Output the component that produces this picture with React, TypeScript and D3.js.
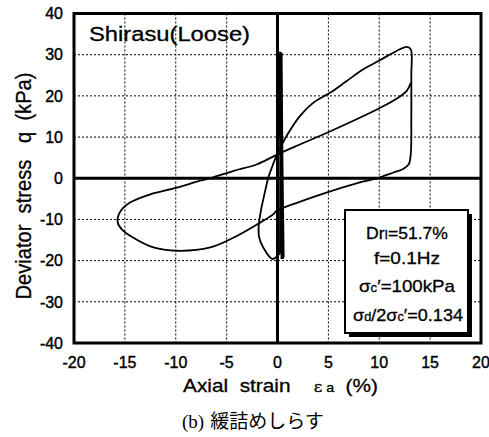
import React from 'react';
import * as d3 from 'd3';

// axis ticks
const xTicks = [-20, -15, -10, -5, 0, 5, 10, 15, 20];
const yTicks = [-40, -30, -20, -10, 0, 10, 20, 30, 40];

// small cycles piled up near the origin (the thick bar)
const smallCycles: [number, number][] = [
  [0.2, 30.7], [0.5, -19.5], [0.25, 30.5], [0.55, -19.2], [0.3, 30.6],
  [0.45, -19.6], [0.2, 30.2], [0.5, -19.0], [0.35, 30.4], [0.3, -18],
];

// first large drop and reloading
const firstDrop: [number, number][] = [
  [0.3, -18], [-0.5, -19.6], [-1.4, -16.8], [-1.8, -14.4], [-1.85, -11.6],
  [-1.6, -7.5], [-1.25, -3.5], [-0.9, 0.2], [-0.55, 2.6], [-0.25, 4.6], [0.2, 7.0],
];

// loading to peak then unloading and the full loop
const mainLoop: [number, number][] = [
  [0.2, 7.0], [0.9, 10.3], [2.2, 15.1], [3.5, 18.3], [5.2, 20.8], [6.8, 23.6],
  [8.4, 26.4], [10.1, 28.7], [11.7, 30.9], [12.7, 31.9], [13.1, 31.3],
  [13.15, 25], [13.15, 15], [13.1, 6], [12.9, 3.4], [12.3, 2.2], [11.4, 1.4],
  [9.8, 0], [8.1, -1], [4.8, -3.5], [1.55, -6.3], [-0.1, -7.9], [-0.4, -8.7],
  [-2.0, -11.2], [-4.3, -14.4], [-6.6, -16.8], [-9.9, -17.6], [-12.2, -16.8],
  [-14.2, -14.4], [-15.3, -12.4], [-15.7, -10.8], [-15.5, -8.3], [-14.5, -5.9],
  [-12.5, -3.9], [-9.9, -2.3], [-7.6, -0.6], [-6.6, 0], [-4.3, 1.8], [-2.0, 3.4],
  [0, 5.8], [2.2, 8.2], [5.2, 11.4], [10.1, 17.1], [12.0, 19.8], [12.7, 21.2],
  [13.1, 23.2],
];

const font = "'Liberation Sans', Arial, sans-serif";

export default function App() {
  const width = 489;
  const height = 437;
  const x = d3.scaleLinear().domain([-20, 20]).range([74, 481]);
  const y = d3.scaleLinear().domain([-40, 40]).range([343, 13.5]);

  const line = d3
    .line<[number, number]>()
    .x((d) => x(d[0]))
    .y((d) => y(d[1]))
    .curve(d3.curveCatmullRom.alpha(0.5));
  const straight = d3
    .line<[number, number]>()
    .x((d) => x(d[0]))
    .y((d) => y(d[1]));

  const grid = xTicks.filter((t) => t !== 0 && Math.abs(t) !== 20);
  const gridY = yTicks.filter((t) => t !== 0 && Math.abs(t) !== 40);

  return (
    <svg
      width={width}
      height={height}
      style={{ position: 'absolute', left: 0, top: 0, background: '#fff' }}
      fontFamily={font}
    >
      {/* grid */}
      {grid.map((t) => (
        <line key={'gx' + t} x1={x(t)} x2={x(t)} y1={y(40)} y2={y(-40)}
          stroke="#000" strokeWidth={1} strokeDasharray="2,2" />
      ))}
      {gridY.map((t) => (
        <line key={'gy' + t} x1={x(-20)} x2={x(20)} y1={y(t)} y2={y(t)}
          stroke="#000" strokeWidth={1} strokeDasharray="2,2" />
      ))}
      {/* zero axes */}
      <line x1={x(0)} x2={x(0)} y1={y(40)} y2={y(-40)} stroke="#000" strokeWidth={3} />
      <line x1={x(-20)} x2={x(20)} y1={y(0)} y2={y(0)} stroke="#000" strokeWidth={3} />

      {/* curves */}
      <path d={straight(smallCycles) ?? ''} fill="none" stroke="#000" strokeWidth={3} />
      <path d={line(firstDrop) ?? ''} fill="none" stroke="#000" strokeWidth={1.8} />
      <path d={line(mainLoop) ?? ''} fill="none" stroke="#000" strokeWidth={1.8} strokeLinejoin="round" />

      {/* frame */}
      <rect x={x(-20)} y={y(40)} width={x(20) - x(-20)} height={y(-40) - y(40)}
        fill="none" stroke="#000" strokeWidth={3} />

      {/* tick labels */}
      <g stroke="#000" strokeWidth={0.4} fontSize={16}>
        {yTicks.map((t) => (
          <text key={'ly' + t} x={63} y={y(t)} dy="0.36em" textAnchor="end">{t}</text>
        ))}
        {xTicks.map((t) => (
          <text key={'lx' + t} x={x(t)} y={368} textAnchor="middle">{t}</text>
        ))}
      </g>

      {/* title inside */}
      <text x={89} y={41} fontSize={20} textLength={161} lengthAdjust="spacingAndGlyphs"
        stroke="#000" strokeWidth={0.3}>
        Shirasu(Loose)
      </text>

      {/* axis titles */}
      <text
        transform="translate(31,186) rotate(-90)"
        textAnchor="middle"
        fontSize={22}
        textLength={227}
        lengthAdjust="spacingAndGlyphs"
        stroke="#000"
        strokeWidth={0.3}
        style={{ whiteSpace: 'pre' }}
      >
        {'Deviator  stress   q  (kPa)'}
      </text>
      <text x={183} y={392} fontSize={19} textLength={195} lengthAdjust="spacingAndGlyphs"
        stroke="#000" strokeWidth={0.3} style={{ whiteSpace: 'pre' }}>
        {'Axial  strain    '}
        <tspan fontFamily="'DejaVu Serif', serif" fontSize={15}>ε</tspan>
        <tspan fontSize={13}> a</tspan>
        {'  (%)'}
      </text>

      {/* legend box */}
      <rect x={349} y={214} width={123} height={123} fill="#000" />
      <rect x={345} y={210} width={123} height={123} fill="#fff" stroke="#000" strokeWidth={2} />
      <g fontSize={17} textAnchor="middle" stroke="#000" strokeWidth={0.3}>
        <text x={407} y={239} textLength={82} lengthAdjust="spacingAndGlyphs">
          Dr<tspan fontSize={12}>I</tspan>=51.7%
        </text>
        <text x={407} y={264} textLength={66} lengthAdjust="spacingAndGlyphs">f=0.1Hz</text>
        <text x={407} y={292} textLength={96} lengthAdjust="spacingAndGlyphs">
          σ<tspan fontSize={12}>c</tspan>′=100kPa
        </text>
        <text x={408} y={321} textLength={110} lengthAdjust="spacingAndGlyphs">
          σ<tspan fontSize={12}>d</tspan>/2σ<tspan fontSize={12}>c</tspan>′=0.134
        </text>
      </g>

      {/* caption */}
      <text x={182} y={428} fontSize={19} fontFamily="'Liberation Serif', 'DejaVu Serif', serif">
        (b)
        <tspan fontFamily="'Noto Sans CJK JP', sans-serif" dx={6}>緩詰めしらす</tspan>
      </text>
    </svg>
  );
}
